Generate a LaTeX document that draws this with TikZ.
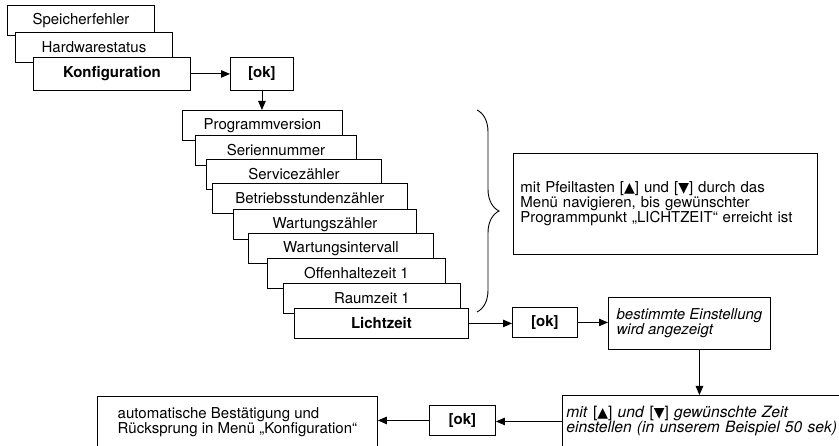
\documentclass[tikz,border=0pt]{standalone}
\usepackage{fontspec}
\setmainfont{TeX Gyre Heros}
\newfontfamily\symfont{DejaVu Sans}
\usetikzlibrary{arrows.meta,decorations.pathreplacing}
\newcommand{\tasteauf}{[{\fontsize{14}{15}\selectfont\symfont ▲}]}
\newcommand{\tasteab}{[{\fontsize{14}{15}\selectfont\symfont ▼}]}

\begin{document}
\fontsize{15}{15}\selectfont
\begin{tikzpicture}[x=1pt,y=-1pt,
    menu/.style={draw, fill=white, line width=0.9pt, inner sep=0pt, anchor=north west, minimum height=30pt},
    okbox/.style={draw, line width=0.9pt, inner sep=0pt, anchor=north west, minimum height=30pt, font=\bfseries},
    info/.style={draw, line width=0.9pt, anchor=north west, align=left},
    arr/.style={-{Triangle[length=9pt,width=7.5pt]}, line width=0.9pt}]
      \clip (0,0) rectangle (839,446);

      \node[menu, minimum width=147] (spf) at (7,5) {Speicherfehler};
      \node[menu, minimum width=157] (hws) at (15,32) {Hardwarestatus};
      \node[menu, minimum width=157, minimum height=33, font=\bfseries] (konf) at (33,57) {Konfiguration};
      \node[okbox, minimum width=63, minimum height=33] (ok1) at (230,57) {[ok]};

      \node[menu, minimum width=160] (prog) at (182,110) {Programmversion};
      \node[menu, minimum width=161] (ser) at (195,135) {Seriennummer};
      \node[menu, minimum width=175] (svc) at (206,159) {Servicezähler};
      \node[menu, minimum width=195] (bsz) at (212,183) {Betriebsstundenzähler};
      \node[menu, minimum width=183] (wz) at (233,209) {Wartungszähler};
      \node[menu, minimum width=185] (wi) at (248,233) {Wartungsintervall};
      \node[menu, minimum width=178] (oz) at (267,258) {Offenhaltezeit 1};
      \node[menu, minimum width=177] (rz) at (283,283) {Raumzeit 1};
      \node[menu, minimum width=174, font=\bfseries] (lz) at (294,308) {Lichtzeit};

      \coordinate (bt) at (477,110);
      \coordinate (bb) at (477,312);
      \draw[line width=0.9pt, decorate, decoration={brace, amplitude=22pt}] (bt) -- (bb);

      \node[info, text width=290, inner xsep=7, minimum height=101] (nav) at (513,153)
        {mit Pfeiltasten \tasteauf{} und \tasteab{} durch das\\
         Menü navigieren, bis gewünschter\\
         Programmpunkt „LICHTZEIT“ erreicht ist};

      \node[okbox, minimum width=65] (ok2) at (512,307) {[ok]};
      \node[info, minimum width=162, minimum height=52, font=\itshape] (best) at (608,297)
        {bestimmte Einstellung\\ wird angezeigt};
      \node[info, text width=275, inner xsep=4, minimum height=52, font={\fontsize{15.6}{15}\selectfont\itshape}] (mit) at (562,395)
        {mit \textup{\tasteauf} und \textup{\tasteab} gewünschte Zeit\\
         einstellen (in unserem Beispiel 50 sek)};
      \node[okbox, minimum width=66] (ok3) at (429,405) {[ok]};
      \node[info, minimum width=280, minimum height=52] (rueck) at (97,396)
        {automatische Bestätigung und\\ Rücksprung in Menü „Konfiguration“};

      \draw[arr] (konf.east) -- (ok1.west);
      \draw[arr] (ok1.south) -- (ok1.south |- prog.north);
      \draw[arr] (lz.east) -- (lz.east -| ok2.west);
      \draw[arr] (ok2.east) -- (ok2.east -| best.west);
      \draw[arr] ([xshift=10pt]best.south) -- ([xshift=10pt]best.south |- mit.north);
      \draw[arr] (mit.west) -- (mit.west -| ok3.east);
      \draw[arr] (ok3.west) -- (ok3.west -| rueck.east);

\end{tikzpicture}
\end{document}
